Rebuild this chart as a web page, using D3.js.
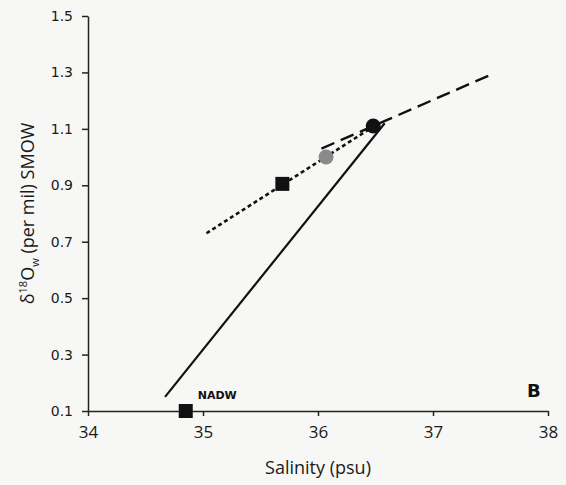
<!DOCTYPE html>
<html lang="en">
<head>
<meta charset="UTF-8">
<title>Salinity vs d18O</title>
<script src="https://d3js.org/d3.v7.min.js"></script>
<style>
  body { margin: 0; background: #f7f7f5; }
  svg { display: block; }
</style>
</head>
<body>
<div id="chart"></div>
<script>
    var width = 566, height = 485;

    // tick values
    var xTicks = [34, 35, 36, 37, 38];
    var yTicks = [0.1, 0.3, 0.5, 0.7, 0.9, 1.1, 1.3, 1.5];

    // mixing lines (salinity, d18O)
    var solidLine  = [[34.67, 0.15], [36.58, 1.12]];
    var dottedLine = [[35.03, 0.73], [36.45, 1.10]];
    var dashedLine = [[36.03, 1.03], [37.52, 1.295]];

    // points
    var squares = [[34.85, 0.10], [35.69, 0.905]];
    var circles = [[36.07, 1.00, "gray"], [36.48, 1.11, "black"]];

    var margin = {left: 88, right: 18, top: 16, bottom: 74};

    var x = d3.scaleLinear().domain([34, 38]).range([margin.left, width - margin.right]);
    var y = d3.scaleLinear().domain([0.1, 1.5]).range([height - margin.bottom, margin.top]);

    var svg = d3.select("#chart").append("svg")
        .attr("width", width)
        .attr("height", height);

    // axes
    var xAxis = svg.append("g")
        .attr("transform", "translate(0," + y(0.1) + ")")
        .call(d3.axisBottom(x).tickValues(xTicks).tickSize(5).tickSizeOuter(0).tickFormat(d3.format("d")));
    xAxis.selectAll("text")
        .attr("y", 27).attr("dy", 0)
        .style("font-family", "'Open Sans', sans-serif")
        .style("font-size", "17px")
        .attr("fill", "#1a1a1a");

    var yAxis = svg.append("g")
        .attr("transform", "translate(" + x(34) + ",0)")
        .call(d3.axisLeft(y).tickValues(yTicks).tickSize(6).tickSizeOuter(0).tickFormat(d3.format(".1f")));
    yAxis.selectAll("text")
        .attr("x", -15)
        .style("font-family", "'DejaVu Sans', sans-serif")
        .style("font-size", "14px")
        .attr("fill", "#1a1a1a");

    svg.selectAll(".domain, .tick line").attr("stroke", "#222").attr("stroke-width", 1.5);

    // axis titles
    svg.append("text")
        .attr("x", x(36)).attr("y", 474)
        .attr("text-anchor", "middle")
        .style("font-family", "'Open Sans', sans-serif")
        .style("font-size", "18px")
        .attr("fill", "#1a1a1a")
        .text("Salinity (psu)");

    var yTitle = svg.append("text")
        .attr("transform", "translate(34," + y(0.8) + ") rotate(-90)")
        .attr("text-anchor", "middle")
        .style("font-family", "'Open Sans', sans-serif")
        .style("font-size", "18px")
        .attr("fill", "#1a1a1a");
    yTitle.append("tspan").text("δ");
    yTitle.append("tspan").attr("dy", -7).style("font-size", "11px").text("18");
    yTitle.append("tspan").attr("dy", 7).text("O");
    yTitle.append("tspan").attr("dy", 5).style("font-size", "11px").text("w");
    yTitle.append("tspan").attr("dy", -5).text(" (per mil) SMOW");

    // lines
    var line = d3.line().x(function(d) { return x(d[0]); }).y(function(d) { return y(d[1]); });

    svg.append("path").attr("d", line(solidLine))
        .attr("fill", "none").attr("stroke", "#111").attr("stroke-width", 2.2);
    svg.append("path").attr("d", line(dottedLine))
        .attr("fill", "none").attr("stroke", "#111").attr("stroke-width", 2.6)
        .attr("stroke-dasharray", "4,3");
    svg.append("path").attr("d", line(dashedLine))
        .attr("fill", "none").attr("stroke", "#111").attr("stroke-width", 2.4)
        .attr("stroke-dasharray", "14,7");

    // markers
    var sq = 14;
    svg.selectAll("rect.pt")
        .data(squares)
        .enter()
        .append("rect")
        .attr("class", "pt")
        .attr("x", function(d) { return x(d[0]) - sq / 2; })
        .attr("y", function(d) { return y(d[1]) - sq / 2; })
        .attr("width", sq).attr("height", sq)
        .attr("fill", "#111");

    svg.selectAll("circle.pt")
        .data(circles)
        .enter()
        .append("circle")
        .attr("class", "pt")
        .attr("cx", function(d) { return x(d[0]); })
        .attr("cy", function(d) { return y(d[1]); })
        .attr("r", 7.5)
        .attr("fill", function(d) { return d[2] == "gray" ? "#8a8a8a" : "#111"; });

    // labels
    svg.append("text")
        .attr("x", x(34.85) + 12).attr("y", y(0.1) - 12)
        .style("font-family", "'DejaVu Sans', sans-serif")
        .style("font-size", "11px")
        .style("font-weight", "bold")
        .attr("fill", "#111")
        .text("NADW");

    svg.append("text")
        .attr("x", 527).attr("y", 397)
        .style("font-family", "'DejaVu Sans', sans-serif")
        .style("font-size", "18px")
        .style("font-weight", "bold")
        .attr("fill", "#111")
        .text("B");
</script>
</body>
</html>
